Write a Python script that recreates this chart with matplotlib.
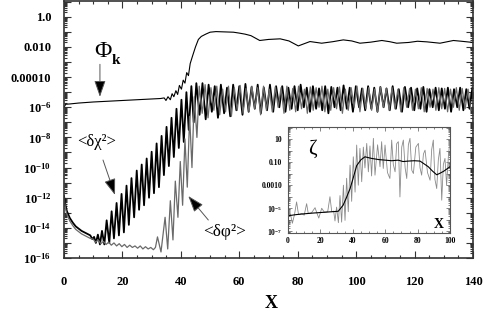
import numpy as np
import matplotlib
matplotlib.use("Agg")
import matplotlib.pyplot as plt
from matplotlib.ticker import FixedLocator, FixedFormatter, MultipleLocator, LogLocator, NullFormatter

plt.rcParams['font.family'] = ['Liberation Serif', 'DejaVu Serif']
plt.rcParams['mathtext.fontset'] = 'custom'
plt.rcParams['mathtext.rm'] = 'Liberation Serif:bold'
plt.rcParams['mathtext.it'] = 'Liberation Serif:bold'
plt.rcParams['mathtext.bf'] = 'Liberation Serif:bold'

# Phi_k (log10 values)
phik_x = [0, 0.6, 2, 5, 10, 15, 20, 25, 30, 33,
          34.3, 34.9, 35.6, 36.4, 37.0, 37.6, 38.3, 38.9, 39.5, 40.2,
          40.8, 41.4, 42.0, 42.6, 43.2, 44.0, 45.0, 46.0, 47.0, 48.5,
          50, 52, 55, 58, 60, 62, 64, 67, 70, 74,
          77, 80.2, 84.2, 88.2, 92, 95.6, 98.5, 101.3, 105, 108.8,
          111.5, 113.9, 118, 121, 124.2, 128.7, 133.3, 136, 140]
phik_log = [-6.0, -5.8, -5.78, -5.72, -5.65, -5.6, -5.55, -5.5, -5.45, -5.42,
            -5.38, -5.55, -5.3, -5.5, -5.1, -5.3, -4.9, -5.15, -4.55, -4.8,
            -4.2, -4.4, -3.7, -3.9, -3.1, -2.6, -2.0, -1.5, -1.3, -1.15,
            -1.02, -0.98, -1.0, -1.02, -1.08, -1.15, -1.25, -1.57, -1.5, -1.46,
            -1.6, -1.93, -1.64, -1.75, -1.65, -1.53, -1.6, -1.75, -1.68, -1.57,
            -1.65, -1.75, -1.7, -1.62, -1.66, -1.75, -1.57, -1.62, -1.7]

# <d chi^2> : decay, growth (peaks / dips), then saturation
chi_rise_x = [0, 0.5, 1, 2, 3, 4, 5, 6, 7, 8,
              9, 9.7, 10.3, 10.9, 11.6, 12.3, 13.0, 13.8, 14.6, 15.5,
              16.3, 17.1, 18.0, 18.8, 19.7, 20.5, 21.4, 22.2, 23.1, 24.0,
              24.9, 25.7, 26.6, 27.4, 28.3, 29.1, 30.0, 30.8, 31.7, 32.5,
              33.4, 34.2, 35.1, 35.9, 36.8, 37.6, 38.5, 39.3, 40.2, 41.0,
              41.9, 42.7, 43.6, 44.4, 45.3]
chi_rise_log = [-11.9, -12.5, -12.9, -13.35, -13.65, -13.9, -14.05, -14.2, -14.3, -14.4,
                -14.5, -14.75, -14.6, -15.0, -14.45, -15.1, -14.2, -15.1, -13.5, -15.0,
                -12.9, -14.7, -12.35, -14.5, -11.75, -14.3, -11.2, -13.8, -10.7, -13.3,
                -10.2, -12.8, -9.8, -12.5, -9.4, -12.0, -8.95, -11.7, -8.4, -11.3,
                -7.9, -10.5, -7.3, -9.9, -6.7, -9.3, -6.1, -8.7, -5.5, -8.3,
                -5.0, -7.5, -4.6, -7.0, -4.4]
chi_tail_x = [46.4, 47.4, 48.5, 49.5, 50.6, 51.6, 52.7, 53.7, 54.8, 55.8,
              56.9, 57.9, 59.0, 60.0, 61.1, 62.1, 63.2, 64.2, 65.3, 66.3,
              67.4, 68.4, 69.5, 70.5, 71.6, 72.6, 73.7, 74.7, 75.8, 76.8,
              77.9, 78.9, 80.0, 81.0, 82.1, 83.1, 84.2, 85.2, 86.3, 87.3,
              88.4, 89.4, 90.5, 91.5, 92.6, 93.6, 94.7, 95.7, 96.8, 97.8,
              98.9, 99.9, 101.0, 102.0, 103.1, 104.1, 105.2, 106.2, 107.3, 108.3,
              109.4, 110.4, 111.5, 112.5, 113.6, 114.6, 115.7, 116.7, 117.8, 118.8,
              119.9, 120.9, 122.0, 123.0, 124.1, 125.1, 126.2, 127.2, 128.3, 129.3,
              130.4, 131.4, 132.5, 133.5, 134.6, 135.6, 136.7, 137.7, 138.8, 139.8]
chi_tail_log = [-6.5, -4.4, -6.8, -4.5, -6.3, -4.6, -6.7, -4.5, -6.4, -4.7,
                -6.6, -4.5, -6.2, -4.6, -6.5, -4.45, -6.3, -4.65, -6.1, -4.5,
                -6.4, -4.7, -6.2, -4.5, -6.3, -4.6, -6.0, -4.6, -6.3, -4.7,
                -6.1, -4.6, -6.2, -4.5, -6.0, -4.7, -6.3, -4.6, -6.1, -4.75,
                -6.2, -4.6, -6.4, -4.65, -6.0, -4.7, -6.2, -4.55, -6.1, -4.7,
                -6.3, -4.6, -6.0, -4.75, -6.2, -4.6, -6.1, -4.7, -6.3, -4.65,
                -6.0, -4.75, -6.2, -4.6, -6.1, -4.8, -6.3, -4.65, -6.0, -4.7,
                -6.2, -4.75, -6.1, -4.65, -6.3, -4.8, -6.0, -4.7, -6.2, -4.75,
                -6.1, -4.7, -6.3, -4.8, -6.0, -4.7, -6.2, -4.8, -6.1, -4.7]

# <d phi^2>
phi_rise_x = [0, 0.5, 1, 2, 3, 4, 5, 6, 7, 8,
              9, 10, 10.8, 11.7, 12.6, 13.5, 14.4, 15.3, 16.2, 17.1,
              18.0, 18.9, 19.8, 20.7, 21.6, 22.5, 23.4, 24.3, 25.2, 26.1,
              27.0, 27.9, 28.8, 29.7, 30.6, 31.3, 32.0, 33.2, 34.6, 35.5,
              36.4, 37.3, 38.1, 39.0, 39.8, 40.6, 41.4, 42.2, 43.0, 43.8,
              44.6, 45.5]
phi_rise_log = [-12.0, -12.7, -13.1, -13.55, -13.85, -14.1, -14.25, -14.4, -14.5, -14.6,
                -14.7, -14.75, -14.95, -14.8, -15.05, -14.9, -15.1, -14.95, -15.15, -15.0,
                -15.2, -15.05, -15.25, -15.1, -15.3, -15.15, -15.3, -15.2, -15.35, -15.2,
                -15.4, -15.25, -15.4, -15.3, -15.45, -15.3, -14.6, -15.6, -13.3, -15.4,
                -12.2, -14.8, -10.9, -13.3, -9.6, -12.5, -8.1, -11.3, -6.6, -10.0,
                -5.3, -8.0]
phi_tail_x = [46.3, 47.3, 48.3, 49.3, 50.3, 51.3, 52.3, 53.3, 54.3, 55.3,
              56.3, 57.3, 58.3, 59.3, 60.3, 61.3, 62.3, 63.3, 64.3, 65.3,
              66.3, 67.3, 68.3, 69.3, 70.3, 71.3, 72.3, 73.3, 74.3, 75.3,
              76.3, 77.3, 78.3, 79.3, 80.3, 81.3, 82.3, 83.3, 84.3, 85.3,
              86.3, 87.3, 88.3, 89.3, 90.3, 91.3, 92.3, 93.3, 94.3, 95.3,
              96.3, 97.3, 98.3, 99.3, 100.3, 101.3, 102.3, 103.3, 104.3, 105.3,
              106.3, 107.3, 108.3, 109.3, 110.3, 111.3, 112.3, 113.3, 114.3, 115.3,
              116.3, 117.3, 118.3, 119.3, 120.3, 121.3, 122.3, 123.3, 124.3, 125.3,
              126.3, 127.3, 128.3, 129.3, 130.3, 131.3, 132.3, 133.3, 134.3, 135.3,
              136.3, 137.3, 138.3, 139.3]
phi_tail_log = [-4.6, -6.4, -4.5, -6.7, -4.7, -6.2, -4.6, -6.5, -4.8, -6.3,
                -4.6, -6.6, -4.7, -6.2, -4.55, -6.4, -4.75, -6.3, -4.6, -6.1,
                -4.7, -6.5, -4.6, -6.2, -4.8, -6.3, -4.65, -6.0, -4.7, -6.4,
                -4.6, -6.2, -4.75, -6.3, -4.6, -6.1, -4.8, -6.4, -4.65, -6.2,
                -4.7, -6.0, -4.6, -6.3, -4.8, -6.2, -4.7, -6.1, -4.65, -6.4,
                -4.8, -6.2, -4.7, -6.0, -4.6, -6.3, -4.75, -6.1, -4.7, -6.2,
                -4.8, -6.3, -4.65, -6.0, -4.75, -6.2, -4.7, -6.1, -4.8, -6.3,
                -4.7, -6.0, -4.75, -6.2, -4.8, -6.1, -4.7, -6.3, -4.75, -6.0,
                -4.8, -6.2, -4.7, -6.1, -4.75, -6.3, -4.8, -6.0, -4.7, -6.2,
                -4.75, -6.1, -4.8, -6.2]

# inset: zeta
zeta_mean_x = [0, 5, 10, 15, 20, 25, 31, 34, 36, 38.3,
               40, 42.4, 45, 47.5, 51.6, 56, 60, 64, 68, 71,
               74.3, 78, 81.5, 84, 86.6, 89, 91.8, 94, 96, 98, 100]
zeta_mean_log = [-5.65, -5.55, -5.48, -5.42, -5.37, -5.32, -5.26, -4.74, -4.1, -3.3,
                 -2.5, -1.3, -0.8, -0.54, -0.68, -0.78, -0.83, -0.88, -0.83, -0.95,
                 -0.91, -0.88, -0.91, -1.15, -1.4, -1.75, -2.1, -1.95, -1.8, -1.6, -1.4]
zeta_x = [0, 1.5, 2.7, 4.0, 5.3, 6.5, 8.5, 10, 11.5, 12.5,
          14.5, 16.7, 17.8, 19.0, 20.8, 22.5, 24.5, 25.9, 27.0, 28.2,
          29.0, 30.0, 31.1, 32.1, 33.1, 34.2, 35.2, 36.2, 37.2, 38.3,
          39.3, 40.3, 41.4, 42.4, 43.4, 44.4, 45.5, 46.5, 47.5, 48.6,
          49.6, 50.6, 51.6, 52.7, 53.7, 55.3, 56.8, 57.8, 58.8, 59.9,
          61.4, 62.9, 64.0, 65.0, 66.1, 67.1, 68.1, 69.1, 70.2, 71.2,
          72.3, 73.3, 74.3, 75.3, 76.4, 77.4, 78.9, 80.5, 81.5, 82.5,
          83.6, 84.6, 86.1, 87.7, 88.7, 89.7, 90.7, 91.8, 92.8, 93.8,
          94.9, 95.9, 96.9, 97.9, 99.0, 100]
zeta_log = [-5.7, -5.5, -6.3, -5.55, -4.45, -5.55, -5.45, -5.6, -4.6, -5.45,
            -5.4, -4.95, -5.4, -5.85, -5.0, -5.35, -5.3, -4.0, -5.3, -5.25,
            -6.1, -4.9, -6.25, -3.9, -6.2, -3.0, -6.05, -2.4, -5.3, -1.26,
            -4.4, -0.54, -3.6, 0.48, -3.0, 0.19, -2.7, 0.3, -1.5, 0.62,
            -1.84, 0.4, -2.2, 1.06, -2.13, 0.5, -1.4, 0.77, -1.55, 0.48,
            -1.9, -2.42, 0.91, -1.2, -1.84, 0.6, 0.77, -4.02, 0.3, 0.91,
            -1.5, -2.42, 0.5, 1.06, -1.7, -1.99, 0.3, 0.62, -1.5, -2.13,
            -0.3, 0.04, -1.9, -2.57, 0.1, 0.91, -2.5, -3.29, -0.8, 0.19,
            -4.3, -1.2, -0.68, -3.0, -0.5, 0.91]

main_ylabels = {0: '1.0', -2: '0.010', -4: '0.00010', -6: r'$10^{-6}$', -8: r'$10^{-8}$',
                -10: r'$10^{-10}$', -12: r'$10^{-12}$', -14: r'$10^{-14}$', -16: r'$10^{-16}$'}
inset_ylabels = {1: '10', -1: '0.10', -3: '0.0010', -5: r'$10^{-5}$', -7: r'$10^{-7}$'}


def pw(vals):
    return 10.0 ** np.asarray(vals)


def log_axis(ax, decades, labels, size):
    ticks = [10.0 ** d for d in decades]
    ax.yaxis.set_major_locator(FixedLocator(ticks))
    ax.yaxis.set_major_formatter(FixedFormatter([labels.get(d, '') for d in decades]))
    ax.yaxis.set_minor_locator(LogLocator(base=10, subs=np.arange(2, 10), numticks=40))
    ax.yaxis.set_minor_formatter(NullFormatter())
    for lab in ax.get_xticklabels() + ax.get_yticklabels():
        lab.set_fontweight('bold')
        lab.set_fontsize(size)


fig = plt.figure(figsize=(4.91, 3.16), dpi=100)
ax = fig.add_axes([64 / 491, 1 - 258 / 316, 409 / 491, 257 / 316])

ax.plot(chi_rise_x + chi_tail_x, pw(chi_rise_log + chi_tail_log), color='black', lw=1.3)
ax.plot(phi_rise_x + phi_tail_x, pw(phi_rise_log + phi_tail_log), color='#6a6a6a', lw=0.9)
ax.plot(phik_x, pw(phik_log), color='black', lw=0.8)

ax.set_yscale('log')
ax.set_xlim(0, 140)
ax.set_ylim(1e-16, 10 ** 1.05)
ax.xaxis.set_major_locator(MultipleLocator(20))
ax.xaxis.set_minor_locator(MultipleLocator(5))
log_axis(ax, list(range(-16, 2)), main_ylabels, 9)
ax.tick_params(which='both', direction='in', top=True, right=True, width=0.8, color='#333333')
ax.tick_params(which='major', length=5)
ax.tick_params(which='minor', length=2.5)
ax.tick_params(axis='x', pad=13)
ax.tick_params(axis='y', pad=9)
for sp in ax.spines.values():
    sp.set_linewidth(1.2)
    sp.set_color('#333333')

fig.text(271 / 491, 1 - 303 / 316, 'X', fontsize=13, fontweight='bold', ha='center', va='center')

# annotations
arrow = dict(arrowstyle='-|>,head_length=1.0,head_width=0.35', fc='black', ec='#555555',
             lw=0.7, shrinkA=0, shrinkB=0, mutation_scale=10)
ax.text(13.35, 10 ** -2.32, 'Φ', fontsize=17, ha='center', va='center')
ax.text(17.8, 10 ** -2.9, 'k', fontsize=11, fontweight='bold', ha='center', va='center')
ax.annotate('', xy=(12.3, 10 ** -5.31), xytext=(12.3, 10 ** -3.15), arrowprops=arrow)

ax.text(11.1, 10 ** -8.28, '<δχ²>', fontsize=12, ha='center', va='center')
ax.annotate('', xy=(17.46, 10 ** -11.82), xytext=(13.35, 10 ** -9.5), arrowprops=arrow)

ax.text(55.1, 10 ** -14.28, '<δφ²>', fontsize=12.5, ha='center', va='center')
ax.annotate('', xy=(42.55, 10 ** -11.89), xytext=(49.4, 10 ** -13.48), arrowprops=arrow)

# inset
axi = fig.add_axes([288 / 491, 1 - 232.5 / 316, 162 / 491, 105 / 316])
axi.set_facecolor('white')
axi.plot(zeta_x, pw(zeta_log), color='#8a8a8a', lw=0.6)
axi.plot(zeta_mean_x, pw(zeta_mean_log), color='black', lw=0.8)
axi.set_yscale('log')
axi.set_xlim(0, 100)
axi.set_ylim(10 ** -7.1, 1e2)
axi.xaxis.set_major_locator(MultipleLocator(20))
axi.xaxis.set_minor_locator(MultipleLocator(5))
log_axis(axi, list(range(-7, 3)), inset_ylabels, 5.5)
axi.tick_params(which='both', direction='in', top=True, right=True, width=0.5, color='#555555')
axi.tick_params(which='major', length=3)
axi.tick_params(which='minor', length=1.5)
axi.tick_params(axis='x', pad=3)
axi.tick_params(axis='y', pad=4)
for sp in axi.spines.values():
    sp.set_linewidth(0.8)
    sp.set_color('#555555')
axi.text(14.8, 10 ** 0.13, 'ζ', fontsize=15, ha='center', va='center')
axi.text(93.2, 10 ** -6.4, 'X', fontsize=10, fontweight='bold', ha='center', va='center')

fig.savefig('out.png', dpi=100)
